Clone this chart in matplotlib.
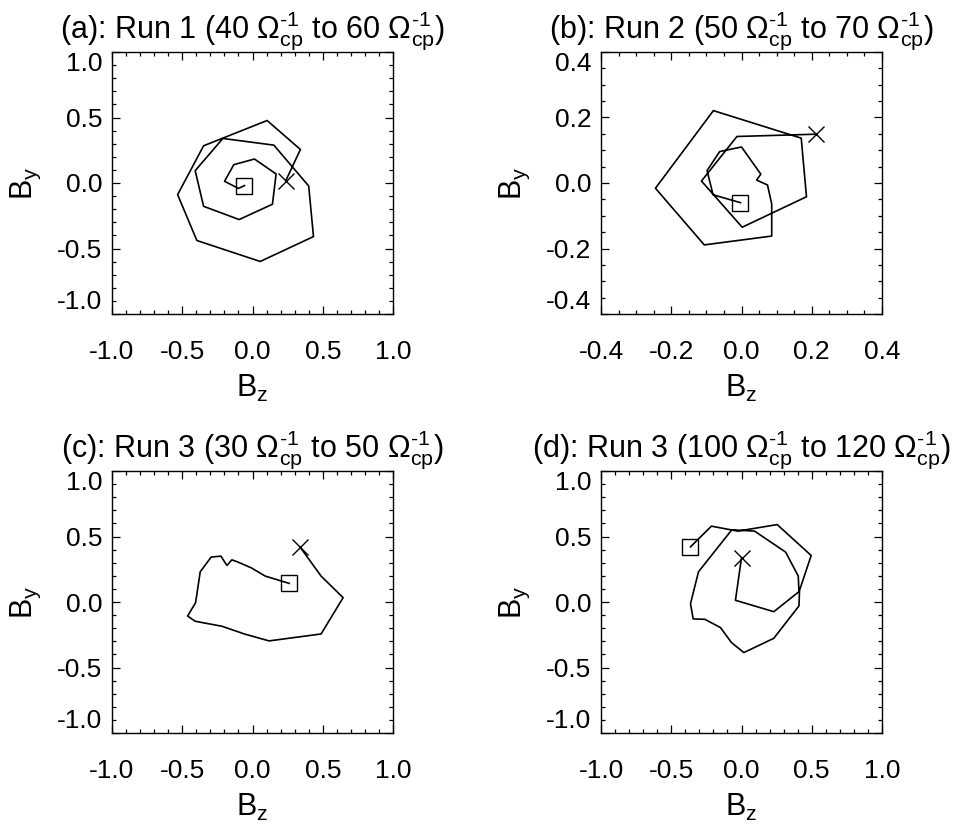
import numpy as np
import matplotlib
matplotlib.use("Agg")
import matplotlib.pyplot as plt
import matplotlib.ticker as plticker

plt.rcParams['font.family'] = ['Liberation Sans', 'DejaVu Sans']
plt.rcParams['mathtext.fontset'] = 'custom'
plt.rcParams['mathtext.rm'] = 'Liberation Sans'
plt.rcParams['mathtext.it'] = 'Liberation Sans'
plt.rcParams['axes.unicode_minus'] = False

# Hodograms (Bz, By), first point = square, last point = cross
# (a) Run 1
bz_a = [-0.057, -0.100, -0.199, -0.133, 0.014, 0.168, 0.142, -0.095, -0.348, -0.408,
        -0.211, 0.152, 0.400, 0.434, 0.055, -0.396, -0.533, -0.348, 0.104, 0.341, 0.237]
by_a = [-0.020, -0.041, 0.013, 0.140, 0.183, 0.069, -0.162, -0.279, -0.178, 0.094,
        0.340, 0.289, -0.023, -0.409, -0.599, -0.439, -0.089, 0.284, 0.477, 0.256, 0.018]

# (b) Run 2
bz_b = [-0.003, -0.081, -0.098, -0.062, 0.000, 0.055, 0.043, 0.074, 0.086, 0.086,
        -0.106, -0.245, -0.080, 0.170, 0.185, 0.002, -0.114, -0.013, 0.211]
by_b = [-0.060, -0.036, 0.038, 0.096, 0.110, 0.027, 0.009, -0.006, -0.064, -0.162,
        -0.189, -0.016, 0.221, 0.137, -0.042, -0.135, 0.006, 0.142, 0.149]

# (c) Run 3, early
bz_c = [0.261, 0.090, -0.009, -0.104, -0.147, -0.182, -0.225, -0.294, -0.372, -0.405,
        -0.462, -0.408, -0.218, -0.052, 0.118, 0.488, 0.645, 0.488, 0.339]
by_c = [0.142, 0.198, 0.261, 0.305, 0.322, 0.279, 0.350, 0.343, 0.231, -0.005,
        -0.107, -0.147, -0.185, -0.246, -0.297, -0.244, 0.033, 0.198, 0.419]

# (d) Run 3, late
bz_d = [-0.363, -0.214, -0.026, 0.254, 0.496, 0.413, 0.409, 0.230, 0.017, -0.071,
        -0.150, -0.261, -0.344, -0.363, -0.306, -0.069, 0.093, 0.314, 0.404, 0.409,
        0.230, -0.043, 0.000]
by_d = [0.421, 0.579, 0.541, 0.591, 0.355, 0.089, -0.030, -0.277, -0.386, -0.310,
        -0.195, -0.132, -0.129, -0.013, 0.231, 0.551, 0.541, 0.381, 0.198, 0.079,
        -0.074, 0.013, 0.338]

om = r'$\Omega_{\rm cp}^{\text{-1}}$'
titles = ['(a): Run 1 (40 %s to 60 %s)' % (om, om),
          '(b): Run 2 (50 %s to 70 %s)' % (om, om),
          '(c): Run 3 (30 %s to 50 %s)' % (om, om),
          '(d): Run 3 (100 %s to 120 %s)' % (om, om)]
limits = [1.0, 0.4, 1.0, 1.0]
minors = [0.1, 0.05, 0.1, 0.1]
data = [(bz_a, by_a), (bz_b, by_b), (bz_c, by_c), (bz_d, by_d)]

W, H = 958, 833
boxes = [(112, 52), (601, 52), (112, 471), (601, 471)]  # left, top in pixels
bw, bh = 281, 262

fig = plt.figure(figsize=(W / 100, H / 100), dpi=100)

for i, (bz, by) in enumerate(data):
    left, top = boxes[i]
    ax = fig.add_axes([left / W, (H - top - bh) / H, bw / W, bh / H])
    ax.plot(bz, by, color='k', lw=1.2)
    ax.plot(bz[0], by[0], marker='s', ms=11, mfc='none', mec='k', mew=1.0)
    ax.plot(bz[-1], by[-1], marker='x', ms=11, mec='k', mew=1.0)

    lim = limits[i]
    ax.set_xlim(-lim, lim)
    ax.set_ylim(-lim, lim)
    ticks = np.linspace(-lim, lim, 5)
    labels = ['%.1f' % t for t in ticks]
    ax.set_xticks(ticks, labels)
    ax.set_yticks(ticks, labels)
    ax.xaxis.set_minor_locator(plticker.MultipleLocator(minors[i]))
    ax.yaxis.set_minor_locator(plticker.MultipleLocator(minors[i]))
    ax.tick_params(which='both', direction='in', top=True, right=True, width=0.9)
    ax.tick_params(which='major', length=5.5)
    ax.tick_params(which='minor', length=3)
    ax.tick_params(axis='x', which='major', labelsize=19, pad=19)
    ax.tick_params(axis='y', which='major', labelsize=19, pad=7)
    for s in ax.spines.values():
        s.set_linewidth(1.0)

    # keep the end labels of the y axis inside the box, as in the original
    yt = ax.yaxis.get_major_ticks()
    yt[0].label1.set_va('bottom')
    yt[-1].label1.set_va('top')

    ax.set_xlabel(r'B$_{\rm z}$', fontsize=22, labelpad=6)
    ax.set_ylabel(r'B$_{\rm y}$', fontsize=22, labelpad=10)
    ax.set_title(titles[i], fontsize=22, pad=5)

fig.savefig('out.png', dpi=100)
